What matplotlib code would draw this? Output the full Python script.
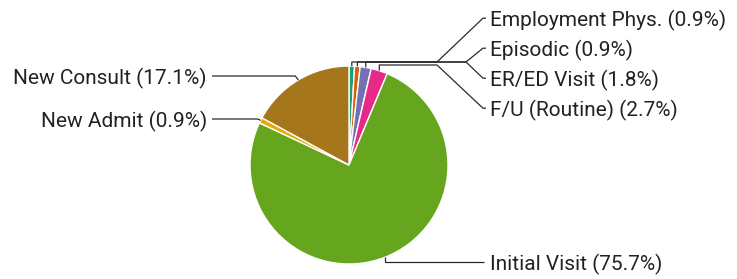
import numpy as np
import matplotlib
matplotlib.use("Agg")
import matplotlib.pyplot as plt

plt.rcParams['font.family'] = ['Roboto', 'DejaVu Sans']

categories = ["Employment Phys.", "Episodic", "ER/ED Visit", "F/U (Routine)",
              "Initial Visit", "New Admit", "New Consult"]
percents = [0.9, 0.9, 1.8, 2.7, 75.7, 0.9, 17.1]
colors = ["#1b9e77", "#d95f02", "#7570b3", "#e7298a", "#66a61e", "#e6ab02", "#a6761d"]

W, H = 737, 279
fig = plt.figure(figsize=(W / 100, H / 100), dpi=100)
ax = fig.add_axes([0, 0, 1, 1])

def Y(y):
    return H - y

cx, cy, R = 349, 165, 99
ax.pie(percents, colors=colors, startangle=90, counterclock=False,
       center=(cx, Y(cy)), radius=R,
       wedgeprops=dict(edgecolor="white", linewidth=1.0))
ax.set_xlim(0, W)
ax.set_ylim(0, H)
ax.set_aspect('auto')
ax.axis('off')

# mid angles (clockwise from top)
total = sum(percents)
cum = np.cumsum([0] + percents)
mids = [(cum[i] + cum[i + 1]) / 2 / total * 360 for i in range(len(percents))]

def edge(i):
    a = np.deg2rad(mids[i])
    return cx + R * np.sin(a), cy - R * np.cos(a)

lc = "#2a2a2a"
lw = 0.9
tc = "#222222"
fs = 15
half_cap = 0.711 * fs * 100 / 72 / 2

def path(pts):
    xs = [p[0] for p in pts]
    ys = [Y(p[1]) for p in pts]
    ax.plot(xs, ys, color=lc, lw=lw, solid_capstyle='butt', solid_joinstyle='miter')

def label(x, ly, s, ha):
    ax.text(x, Y(ly + half_cap), s, fontsize=fs, color=tc, ha=ha, va='baseline')

# right group labels (top)
label_x = 490
right_y = {0: 19, 1: 49, 2: 79, 3: 109}
trunk = {0: 62, 1: 62, 2: 62, 3: 65}
branch = {0: 437, 1: 466, 2: 466, 3: 437}
for i in range(4):
    ex, ey = edge(i)
    ly = right_y[i]
    path([(ex, ey), (ex, trunk[i]), (branch[i], trunk[i]),
          (label_x - 7, ly - 0.8), (label_x - 4, ly - 0.8)])
    label(label_x, ly, f"{categories[i]} ({percents[i]}%)", 'left')

# Initial Visit
ex, ey = edge(4)
ly = 263
path([(ex, ey), (ex, ly - 1), (label_x - 6, ly - 1)])
label(label_x, ly, f"{categories[4]} ({percents[4]}%)", 'left')

# left labels
left_x = 207
for i, ly in [(5, 120), (6, 77)]:
    ex, ey = edge(i)
    path([(ex, ey), (ex - 3, ly - 1), (left_x + 5, ly - 1)])
    label(left_x, ly, f"{categories[i]} ({percents[i]}%)", 'right')

fig.savefig("out.png", dpi=100)
